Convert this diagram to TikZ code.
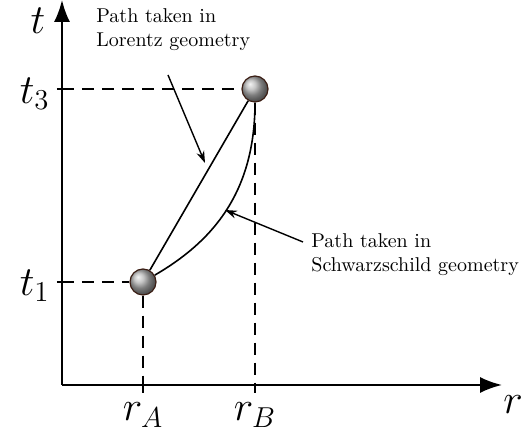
\documentclass[tikz,border=0pt]{standalone}
\usetikzlibrary{arrows.meta,positioning}
\definecolor{ballrim}{HTML}{3B1E14}

\begin{document}
\begin{tikzpicture}[x=0.5pt,y=0.5pt,
    every node/.style={font=\normalsize},
    event/.style={circle,draw=ballrim,line width=0.6pt,shading=ball,ball color=gray!60,
      minimum size=13pt,inner sep=0pt},
    axislabel/.style={font=\huge,inner sep=0pt},
    guide/.style={dash pattern=on 6pt off 4pt,line width=0.8pt},
    note/.style={align=left,inner sep=0pt},
    pointer/.style={-{Stealth[length=6pt,width=4pt]},line width=0.7pt}]
  \useasboundingbox (-62,-52) rectangle (469,385);
  % axes
  \coordinate (origin) at (0,0);
  \coordinate (tend) at (0,385);
  \coordinate (rend) at (440,0);
  \draw[line width=1pt,-{Latex[length=11pt,width=8pt]}] (origin) -- (tend);
  \draw[line width=1pt,-{Latex[length=11pt,width=8pt]}] (origin) -- (rend);
  \node[axislabel] (tlab) at (-24,364) {$t$};
  \node[axislabel] (rlab) at (451,-20) {$r$};
  % events
  \node[event] (ballA) at (81,103) {};
  \node[event] (ballB) at (193,296) {};
  \coordinate (tone) at (0,103);
  \coordinate (tthree) at (0,296);
  \coordinate (rA) at (81,0);
  \coordinate (rB) at (193,0);
  \draw[line width=0.8pt] (-5,103) -- (tone) (-5,296) -- (tthree) (rA) -- +(0,-8) (rB) -- +(0,-8);
  \draw[guide] (tone) -- (ballA.west);
  \draw[guide] (tthree) -- (ballB.west);
  \draw[guide] (ballA.south) -- (rA);
  \draw[guide] (ballB.south) -- (rB);
  \node[axislabel,anchor=east] (t1lab) at (-12,99) {$t_1$};
  \node[axislabel,anchor=east] (t3lab) at (-12,291) {$t_3$};
  \node[axislabel] (rAlab) at (81,-30) {$r_A$};
  \node[axislabel] (rBlab) at (193,-30) {$r_B$};
  % world lines
  \draw[line width=0.8pt] (ballA) -- (ballB);
  \draw[line width=0.8pt] (ballA) .. controls (148,142) and (193,190) .. (ballB);
  % annotations
  \node[note,anchor=north west] (lorentz) at (34,377) {Path taken in\\Lorentz geometry};
  \coordinate (lorentztip) at (143,222);
  \draw[pointer] (106,310) -- (lorentztip);
  \node[note,anchor=north west] (schwarz) at (249,152) {Path taken in\\Schwarzschild geometry};
  \coordinate (schwarztip) at (163,175);
  \draw[pointer] (241,143) -- (schwarztip);
\end{tikzpicture}
\end{document}
